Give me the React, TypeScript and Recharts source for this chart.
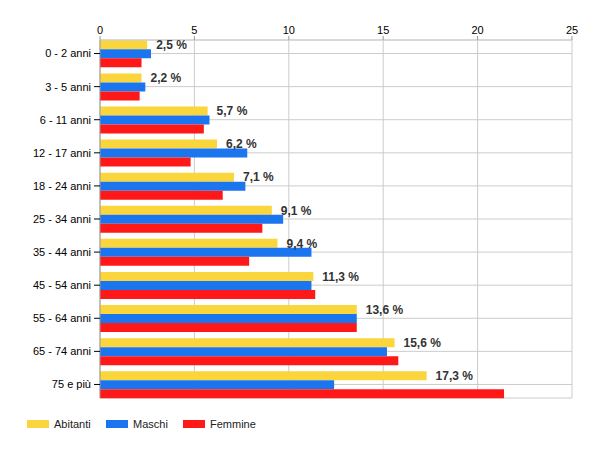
import React from "react";
import { BarChart, Bar, XAxis, YAxis, CartesianGrid, Legend, LabelList } from "recharts";

const categories = [
  "0 - 2 anni", "3 - 5 anni", "6 - 11 anni", "12 - 17 anni", "18 - 24 anni",
  "25 - 34 anni", "35 - 44 anni", "45 - 54 anni", "55 - 64 anni", "65 - 74 anni", "75 e più",
];
const abitanti = [2.5, 2.2, 5.7, 6.2, 7.1, 9.1, 9.4, 11.3, 13.6, 15.6, 17.3];
const maschi = [2.7, 2.4, 5.8, 7.8, 7.7, 9.7, 11.2, 11.2, 13.6, 15.2, 12.4];
const femmine = [2.2, 2.1, 5.5, 4.8, 6.5, 8.6, 7.9, 11.4, 13.6, 15.8, 21.4];
const xTicks = [0, 5, 10, 15, 20, 25];

const series = [
  { key: "abitanti", name: "Abitanti", color: "#fad53b" },
  { key: "maschi", name: "Maschi", color: "#1a75ee" },
  { key: "femmine", name: "Femmine", color: "#fe1818" },
];

const data = categories.map((name, i) => ({
  name,
  abitanti: abitanti[i],
  maschi: maschi[i],
  femmine: femmine[i],
}));

const fmt = (v: any) => String(v).replace(".", ",") + " %";

const LegendContent = () => (
  <div style={{ height: 52, position: "relative", fontFamily: "Arial, 'Liberation Sans', sans-serif", fontSize: 11 }}>
    {series.map((s, i) => (
      <div
        key={s.key}
        style={{
          position: "absolute",
          left: [27, 106, 183][i],
          top: 19,
          display: "flex",
          alignItems: "center",
          height: 14,
          color: "#222",
        }}
      >
        <span style={{ display: "inline-block", width: 22, height: 8, background: s.color, marginRight: 5 }} />
        <span>{s.name}</span>
      </div>
    ))}
  </div>
);

export default function App() {
  return (
    <div style={{ position: "absolute", left: 0, top: 0, width: 600, height: 450, background: "#fff" }}>
      <BarChart
        width={600}
        height={450}
        data={data}
        layout="vertical"
        margin={{ top: 0, right: 28, bottom: 0, left: 0 }}
        barCategoryGap="10%"
        barGap={0}
        style={{ fontFamily: "Arial, 'Liberation Sans', sans-serif" }}
      >
        <CartesianGrid stroke="#cccccc" strokeWidth={1} />
        <XAxis
          type="number"
          orientation="top"
          domain={[0, 25]}
          ticks={xTicks}
          height={40}
          tickSize={4}
          tickMargin={2}
          axisLine={{ stroke: "#cccccc" }}
          tickLine={{ stroke: "#999999" }}
          tick={{ fontSize: 11, fill: "#000" }}
          interval={0}
        />
        <YAxis
          type="category"
          dataKey="name"
          width={100}
          tickSize={6}
          tickMargin={3}
          padding={{ top: -3, bottom: -3 }}
          axisLine={{ stroke: "#999999" }}
          tickLine={{ stroke: "#000" }}
          tick={{ fontSize: 11, fill: "#000" }}
          interval={0}
        />
        <Legend verticalAlign="bottom" align="left" wrapperStyle={{ left: 0, bottom: 0, width: 600 }} content={<LegendContent />} />
        {series.map((s) => (
          <Bar key={s.key} dataKey={s.key} name={s.name} fill={s.color} isAnimationActive={false}>
            {s.key === "abitanti" ? (
              <LabelList
                dataKey="abitanti"
                position="right"
                offset={9}
                formatter={fmt}
                style={{ fontSize: 12, fontWeight: "bold", fill: "#333" }}
              />
            ) : null}
          </Bar>
        ))}
      </BarChart>
    </div>
  );
}
